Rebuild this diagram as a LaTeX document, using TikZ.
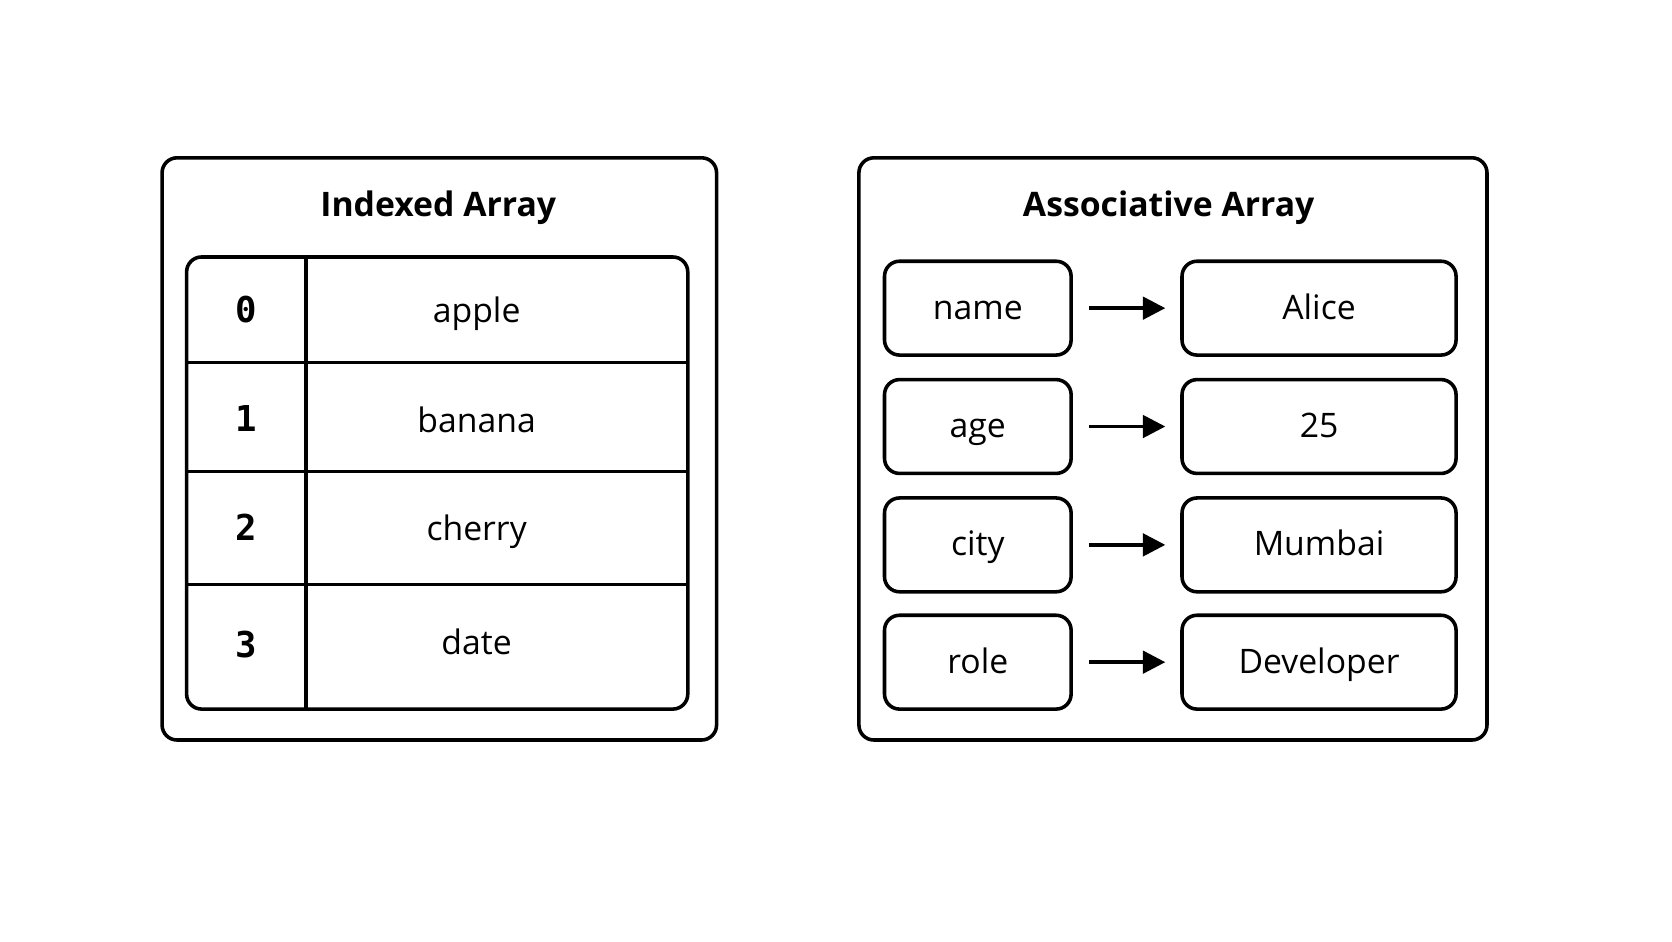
\documentclass[tikz,border=0pt]{standalone}
\usepackage{fontspec}
\setmainfont{Open Sans}
\setmonofont{DejaVu Sans Mono}
\usetikzlibrary{arrows.meta}
\begin{document}
\begin{tikzpicture}[x=0.01cm,y=-0.01cm,
  lw/.style={line width=0.95pt},
  frame/.style={draw,lw,rounded corners=4pt},
  al/.style={text height=1.55ex,text depth=0.45ex,inner sep=0pt},
  cell/.style={draw,lw,rounded corners=4pt,minimum width=175*0.01cm,minimum height=88*0.01cm,font=\fontsize{9}{10}\selectfont,text height=1.55ex,text depth=0.45ex},
  val/.style={cell,minimum width=257*0.01cm},
  ttl/.style={al,font=\fontsize{9}{11}\selectfont\bfseries},
  txt/.style={al,font=\fontsize{9}{10}\selectfont},
  idx/.style={al,font=\fontsize{9.5}{11}\selectfont\ttfamily\bfseries},
  arr/.style={-{Triangle[length=6pt,width=6pt]},lw}]
\useasboundingbox (0,0) rectangle (1568,883);
\fill[white] (0,0) rectangle (1568,883);
% left
\node[frame,minimum width=520*0.01cm,minimum height=546*0.01cm] (L) at (412,421) {};
\node[ttl] (lt) at (411,193) {Indexed Array};
\draw[frame] (175,241) rectangle (645,665);
\draw[lw] (287,241) -- (287,665);
\foreach \y in {340,442,548} \draw[lw] (175,\y) -- (645,\y);
\node[idx] (i0) at (231,292) {0};
\node[idx] (i1) at (231,394) {1};
\node[idx] (i2) at (231,497) {2};
\node[idx] (i3) at (231,606) {3};
\node[txt] (v0) at (447,292) {apple};
\node[txt] (v1) at (447,395) {banana};
\node[txt] (v2) at (447,497) {cherry};
\node[txt] (v3) at (447,603) {date};
% right
\node[frame,minimum width=589*0.01cm,minimum height=546*0.01cm] (R) at (1100,421) {};
\node[ttl] (rt) at (1096,193) {Associative Array};
\foreach \k/\v/\y/\n in {name/Alice/289/a,age/25/400/b,city/Mumbai/511/c,role/Developer/621/d}{
  \node[cell] (k\n) at (917,\y) {\k};
  \node[val] (w\n) at (1237,\y) {\v};
  \draw[arr] ([xshift=15*0.01cm]k\n.east) -- ([xshift=-14*0.01cm]w\n.west);
}
\end{tikzpicture}
\end{document}
